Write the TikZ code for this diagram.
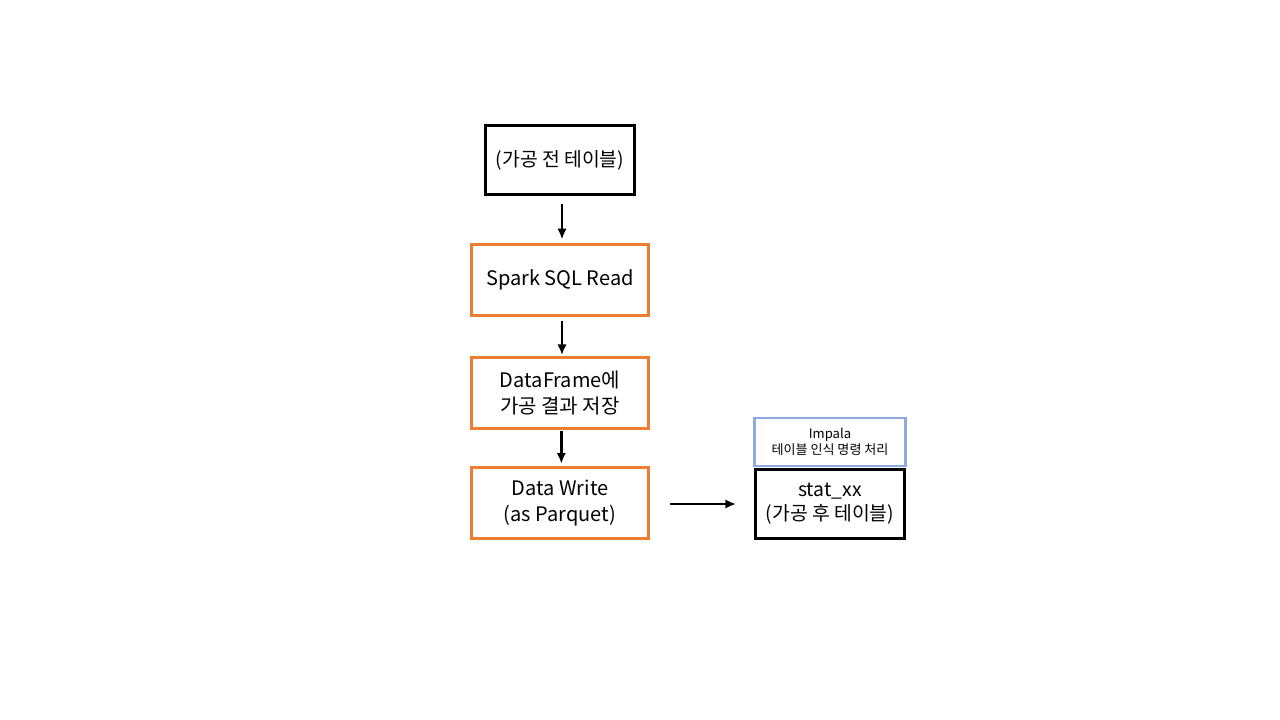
\documentclass[tikz,border=0pt]{standalone}
\usepackage{fontspec}
\setmainfont{Noto Sans CJK KR}
\usetikzlibrary{arrows.meta}
\definecolor{boxorange}{RGB}{237,125,49}
\definecolor{boxblue}{RGB}{143,170,220}
\begin{document}
\begin{tikzpicture}[x=0.75pt,y=-0.75pt,
    srcbox/.style={draw=black,line width=2.2pt,minimum width=112pt,minimum height=52pt,align=center,font=\fontsize{14.5}{18}\selectfont},
    stepbox/.style={draw=boxorange,line width=1.9pt,minimum width=133pt,minimum height=53pt,align=center,font=\fontsize{15}{19}\selectfont},
    notebox/.style={draw=boxblue,line width=1.9pt,minimum width=113pt,minimum height=36pt,align=center,font=\fontsize{9.8}{11.5}\selectfont},
    flow/.style={-{Latex[length=8pt,width=7pt]},line width=1.9pt}]
    \useasboundingbox (0,0) rectangle (1280,720);
    \node [srcbox] (raw) at (560,160) {(가공 전 테이블)};
    \node [stepbox] (read) at (560,280) {Spark SQL Read};
    \node [stepbox] (frame) at (560,393) {DataFrame에\\가공 결과 저장};
    \node [stepbox] (write) at (560,503) {Data Write\\(as Parquet)};
    \node [notebox] (impala) at (830,442) {Impala\\테이블 인식 명령 처리};
    \node [srcbox] (stat) at (830,504) {stat\_xx\\(가공 후 테이블)};
    \coordinate (w1) at (670,504);
    \coordinate (w2) at (736,504);

    \draw [flow] ([xshift=1.5pt,yshift=-6pt]raw.south) -- ([xshift=1.5pt,yshift=3pt]read.north);
    \draw [flow] ([xshift=1.5pt,yshift=-3pt]read.south) -- ([xshift=1.5pt,yshift=1pt]frame.north);
    \draw [flow] ([xshift=1pt,yshift=-1pt]frame.south) -- ([xshift=1pt,yshift=2pt]write.north);
    \draw [flow] (w1) -- (w2);
\end{tikzpicture}
\end{document}
